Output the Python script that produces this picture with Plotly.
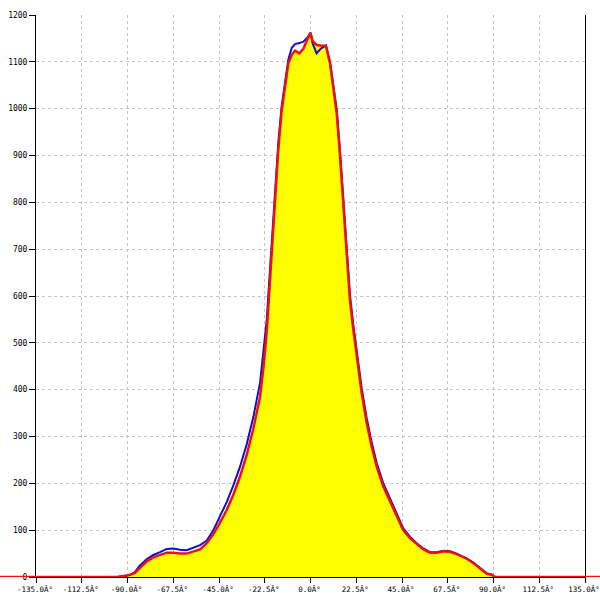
import plotly.graph_objects as go

# ---- data ----
angles = [-180, -95, -90, -88, -86.5, -84, -80.6, -77.3, -74, -70.7, -67.5, -64.2, -60.9, -57.6,
          -54.3, -51, -47.8, -44.5, -41.2, -38, -34.7, -31.4, -28.1, -24.8, -23.2, -21.5, -20.7,
          -19.1, -17.5, -15.8, -14.2, -12.5, -10.9, -9.2, -7.6, -5.5, -3.5, -1.5, 0, 1, 3, 5,
          7.6, 9.6, 11.2, 12.9, 14.5, 16.1, 17.8, 19.4, 21.0, 22.5, 24.0, 25.2, 27.6, 30.1, 32.6, 35.8,
          39.1, 42.4, 45.6, 48.9, 52.2, 55.5, 58.8, 62.1, 65.3, 68.6, 71.9, 76.8, 80.1, 83.4,
          86.7, 89.1, 90.7, 95, 180]

red_values = [0, 0, 3, 5, 8, 19, 33, 42, 47, 52, 52, 50, 50, 54,
              59, 72, 91, 116, 143, 175, 214, 260, 317, 385, 445, 525, 580,
              691, 805, 915, 995, 1054, 1097, 1115, 1124, 1118, 1128, 1148, 1162, 1145, 1136, 1135,
              1134, 1097, 1047, 990, 900, 791, 680, 591, 530, 478, 425, 392, 330, 278, 235, 193,
              162, 129, 100, 83, 70, 59, 52, 52, 55, 54, 49, 39, 30, 18,
              7, 5, 0, 0, 0]

blue_values = [0, 0, 3, 6, 10, 24, 38, 47, 53, 60, 61, 58, 57, 63,
               68, 78, 100, 130, 160, 195, 235, 283, 342, 415, 475, 550, 605,
               710, 825, 928, 1005, 1062, 1105, 1130, 1138, 1140, 1143, 1152, 1162, 1140, 1118, 1128,
               1135, 1100, 1052, 998, 910, 802, 692, 602, 540, 488, 435, 402, 340, 287, 243, 200,
               168, 134, 104, 86, 72, 61, 53, 53, 56, 55, 50, 40, 31, 19,
               8, 5, 0, 0, 0]

x_tick_values = [-135, -112.5, -90, -67.5, -45, -22.5, 0, 22.5, 45, 67.5, 90, 112.5, 135]
x_tick_labels = ["-135.0Â°", "-112.5Â°", "-90.0Â°", "-67.5Â°", "-45.0Â°", "-22.5Â°", "0.0Â°",
                 "22.5Â°", "45.0Â°", "67.5Â°", "90.0Â°", "112.5Â°", "135.0Â°"]
x_range = [-135, 135]
y_range = [0, 1200]

# ---- layout geometry ----
W, H = 600, 600
dom0, dom1 = 36 / W, 585 / W
scale = (dom1 - dom0) / (x_range[1] - x_range[0])   # paper fraction per degree
full_range = [x_range[0] - dom0 / scale, x_range[1] + (1 - dom1) / scale]

x_tick_font = dict(family="DejaVu Sans Mono", size=7.5, color="#000")
y_tick_font = dict(family="DejaVu Sans Mono", size=8, color="#000")
grid = dict(showgrid=True, gridcolor="#c4c4c4", gridwidth=1, griddash="3px,3px")

fig = go.Figure()
fig.add_trace(go.Scatter(x=angles, y=red_values, mode="lines", line=dict(width=0, color="yellow"),
                         fill="tozeroy", fillcolor="#ffff00", hoverinfo="skip", showlegend=False))
fig.add_trace(go.Scatter(x=angles, y=blue_values, mode="lines",
                         line=dict(color="#1010c8", width=2), showlegend=False))
fig.add_trace(go.Scatter(x=angles, y=red_values, mode="lines", xaxis="x2", yaxis="y2",
                         line=dict(color="#ee1010", width=2.5), showlegend=False))

fig.update_layout(
    width=W, height=H,
    margin=dict(l=0, r=0, t=15, b=23, autoexpand=False),
    paper_bgcolor="white", plot_bgcolor="rgba(0,0,0,0)",
    showlegend=False,
    xaxis=dict(domain=[dom0, dom1], range=x_range, anchor="y", automargin=False,
               tickmode="array", tickvals=x_tick_values, ticktext=x_tick_labels,
               ticks="outside", ticklen=5, tickcolor="black", tickwidth=1,
               ticklabeloverflow="allow", ticklabelshift=-1,
               showline=True, linecolor="black", linewidth=1, zeroline=False,
               tickfont=x_tick_font, **grid),
    yaxis=dict(domain=[0, 1], range=y_range, anchor="x", dtick=100, automargin=False,
               ticks="outside", ticklen=6, tickcolor="black", tickwidth=1,
               ticklabeloverflow="allow",
               showline=True, linecolor="black", linewidth=1, mirror=True, zeroline=False,
               tickfont=y_tick_font, **grid),
    xaxis2=dict(domain=[0, 1], range=full_range, anchor="y2", visible=False, automargin=False,
                showgrid=False, zeroline=False),
    yaxis2=dict(domain=[0, 1], range=y_range, anchor="x2", visible=False, automargin=False,
                showgrid=False, zeroline=False),
    xaxis3=dict(overlaying="x", range=x_range, anchor="y", tickmode="array", automargin=False,
                tickvals=x_tick_values, ticks="inside", ticklen=4, tickcolor="black",
                showticklabels=False, showgrid=False, showline=False, zeroline=False),
    yaxis3=dict(overlaying="y", range=y_range, anchor="x", dtick=100, side="left", automargin=False,
                ticks="inside", ticklen=3, tickcolor="black",
                showticklabels=False, showgrid=False, showline=False, zeroline=False),
)

fig.write_html("out.html", config={"displayModeBar": False},
               post_script="document.body.style.margin='0';document.body.style.overflow='hidden';")
